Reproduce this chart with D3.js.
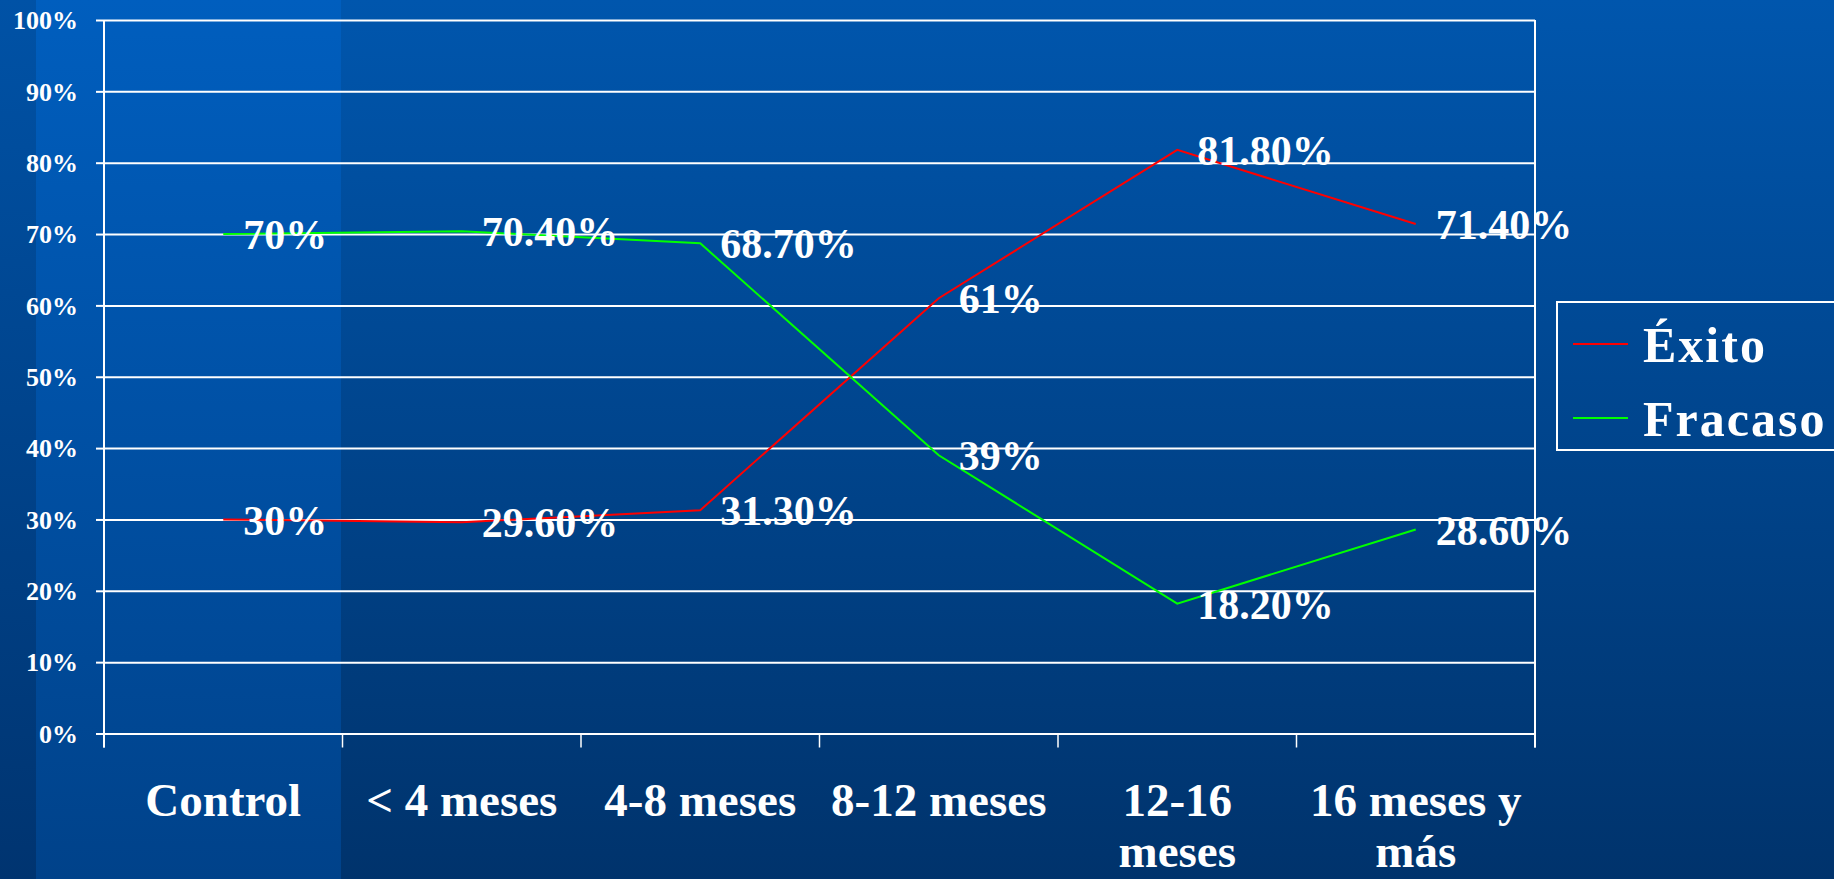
<!DOCTYPE html>
<html>
<head>
<meta charset="utf-8">
<script src="https://cdn.jsdelivr.net/npm/d3@7"></script>
<style>
  html, body { margin: 0; padding: 0; overflow: hidden; background: #00458f; }
  svg { display: block; }
  text { font-family: "Liberation Serif", "Times New Roman", serif; font-weight: bold; fill: #ffffff; }
</style>
</head>
<body>
<svg id="chart" width="1834" height="879"></svg>
<script>
// ---- data ----
const categories = ["Control", "< 4 meses", "4-8 meses", "8-12 meses", "12-16 meses", "16 meses y más"];
const categoryLines = [["Control"], ["< 4 meses"], ["4-8 meses"], ["8-12 meses"], ["12-16", "meses"], ["16 meses y", "más"]];
const seriesNames = ["Éxito", "Fracaso"];
const exito = [30, 29.6, 31.3, 61, 81.8, 71.4];
const fracaso = [70, 70.4, 68.7, 39, 18.2, 28.6];
const seriesColors = ["#ff0000", "#00ff00"];
const yTicks = [0, 10, 20, 30, 40, 50, 60, 70, 80, 90, 100];

// ---- layout ----
const W = 1834, H = 879;
const plot = { left: 104, right: 1535, top: 20, bottom: 733.5 };

const svg = d3.select("#chart");
const defs = svg.append("defs");

const bgGrad = defs.append("linearGradient").attr("id", "bg").attr("x1", 0).attr("y1", 0).attr("x2", 0).attr("y2", 1);
bgGrad.append("stop").attr("offset", "0%").attr("stop-color", "#0056ad");
bgGrad.append("stop").attr("offset", "100%").attr("stop-color", "#00336c");
const panelGrad = defs.append("linearGradient").attr("id", "panel").attr("x1", 0).attr("y1", 0).attr("x2", 0).attr("y2", 1);
panelGrad.append("stop").attr("offset", "0%").attr("stop-color", "#005ebe");
panelGrad.append("stop").attr("offset", "100%").attr("stop-color", "#00428a");
const stripGrad = defs.append("linearGradient").attr("id", "strip").attr("x1", 0).attr("y1", 0).attr("x2", 0).attr("y2", 1);
stripGrad.append("stop").attr("offset", "0%").attr("stop-color", "#0052a6");
stripGrad.append("stop").attr("offset", "100%").attr("stop-color", "#003470");

svg.append("rect").attr("x", 0).attr("y", 0).attr("width", W).attr("height", H).attr("fill", "url(#bg)");
svg.append("rect").attr("x", 0).attr("y", 0).attr("width", 36).attr("height", H).attr("fill", "url(#strip)");
svg.append("rect").attr("x", 36).attr("y", 0).attr("width", 305).attr("height", H).attr("fill", "url(#panel)");

// ---- scales ----
const x = d3.scaleBand().domain(categories).range([plot.left, plot.right]).padding(0);
const y = d3.scaleLinear().domain([0, 100]).range([plot.bottom, plot.top]);
const cx = c => x(c) + x.bandwidth() / 2;

// gridlines
const grid = svg.append("g").attr("transform", `translate(${plot.left},0)`)
  .call(d3.axisLeft(y).tickValues(yTicks).tickSize(-(plot.right - plot.left)).tickFormat(""));
grid.select(".domain").remove();
grid.selectAll(".tick line").attr("stroke", "#ffffff").attr("stroke-width", 2);

// y axis with outward ticks + labels
const yAxis = svg.append("g").attr("transform", `translate(${plot.left},0)`)
  .call(d3.axisLeft(y).tickValues(yTicks).tickSize(8).tickPadding(18).tickFormat(d => d + "%"));
yAxis.select(".domain").remove();
yAxis.selectAll(".tick line").attr("stroke", "#ffffff").attr("stroke-width", 2);
yAxis.selectAll(".tick text").attr("font-size", 26).attr("dy", "0.34em")
  .style("font-family", '"Liberation Serif", "Times New Roman", serif').style("font-weight", "bold").attr("fill", "#fff");

// vertical frame lines
[plot.left, plot.right].forEach(xx => {
  svg.append("line").attr("x1", xx).attr("x2", xx).attr("y1", plot.top).attr("y2", plot.bottom + 14)
    .attr("stroke", "#ffffff").attr("stroke-width", 2);
});

// x axis boundary ticks
const edges = categories.map(c => x(c)).concat([plot.right]);
svg.append("g").selectAll("line").data(edges).join("line")
  .attr("x1", d => d).attr("x2", d => d)
  .attr("y1", plot.bottom).attr("y2", plot.bottom + 14)
  .attr("stroke", "#ffffff").attr("stroke-width", 1.5);

// x labels
const xl = svg.append("g").selectAll("text").data(categories).join("text")
  .attr("x", d => cx(d)).attr("y", 816)
  .attr("text-anchor", "middle").attr("font-size", 47);
xl.each(function(d, i) {
  d3.select(this).selectAll("tspan").data(categoryLines[i]).join("tspan")
    .attr("x", cx(d)).attr("dy", (t, j) => j === 0 ? 0 : 51).text(t => t);
});

// lines
const seriesData = [exito, fracaso];
const line = d3.line().x((d, i) => cx(categories[i])).y(d => y(d));
svg.append("g").selectAll("path").data(seriesData).join("path")
  .attr("d", d => line(d)).attr("fill", "none")
  .attr("stroke", (d, i) => seriesColors[i]).attr("stroke-width", 2);

// data labels
const fmt = v => (Number.isInteger(v) ? v : v.toFixed(2)) + "%";
seriesData.forEach(s => {
  svg.append("g").selectAll("text").data(s).join("text")
    .attr("x", (d, i) => cx(categories[i]) + 20)
    .attr("y", d => y(d))
    .attr("dy", "0.36em")
    .attr("font-size", 42)
    .text(d => fmt(d));
});

// legend
const lg = svg.append("g");
lg.append("rect").attr("x", 1557).attr("y", 302).attr("width", 300).attr("height", 148)
  .attr("fill", "none").attr("stroke", "#ffffff").attr("stroke-width", 2);
const legY = [344, 418];
seriesNames.forEach((n, i) => {
  lg.append("line").attr("x1", 1573).attr("x2", 1628).attr("y1", legY[i]).attr("y2", legY[i])
    .attr("stroke", seriesColors[i]).attr("stroke-width", 2);
  lg.append("text").attr("x", 1643).attr("y", legY[i] + 18)
    .attr("font-size", 50).attr("letter-spacing", 2).text(n);
});
</script>
</body>
</html>
